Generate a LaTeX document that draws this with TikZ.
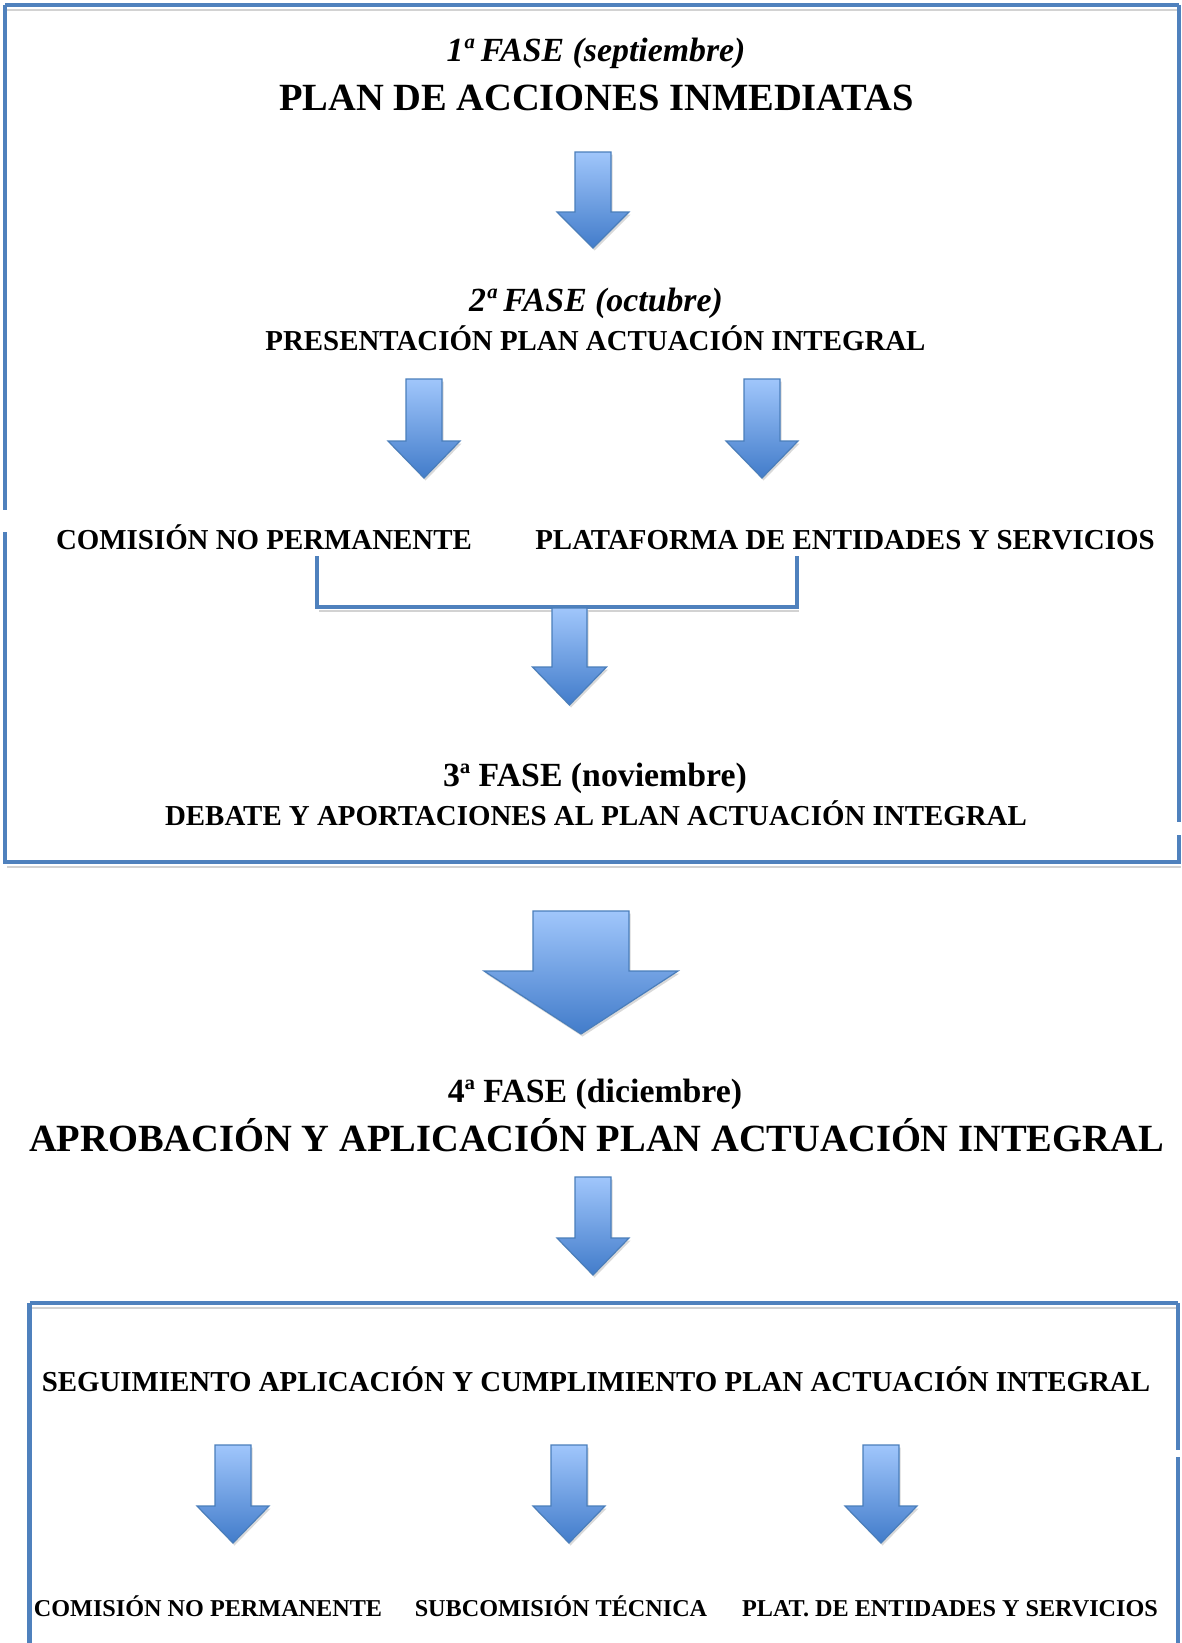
\documentclass[tikz,border=0pt]{standalone}
\usepackage{fontspec}
\setmainfont{Liberation Serif}
\usepackage{tikz}
\usetikzlibrary{calc}

\definecolor{bordeazul}{HTML}{4F81BD}
\definecolor{flechaclara}{HTML}{A0C6FB}
\definecolor{flechaoscura}{HTML}{427CCA}
\definecolor{flechaborde}{HTML}{4A7EBB}

% x centro, y arriba, y cabeza, y punta, medio cuerpo, media cabeza
\newcommand{\flecha}[6]{%
  \fill[gray!30, shift={(1.5,2.5)}] (#1-#5,#2) -- (#1+#5,#2) -- (#1+#5,#3) -- (#1+#6,#3)
     -- (#1,#4) -- (#1-#6,#3) -- (#1-#5,#3) -- cycle;
  \shade[top color=flechaclara, bottom color=flechaoscura, draw=flechaborde, line width=1.2pt]
     (#1-#5,#2) -- (#1+#5,#2) -- (#1+#5,#3) -- (#1+#6,#3)
     -- (#1,#4) -- (#1-#6,#3) -- (#1-#5,#3) -- cycle;
}

\tikzset{
  marco/.style={draw=bordeazul, line width=4.5pt},
  sombra/.style={draw=gray!35, line width=2.5pt},
  fase/.style={anchor=base, inner sep=0pt, font=\bfseries\fontsize{33.8}{40}\selectfont},
  titulo/.style={anchor=base, inner sep=0pt, font=\bfseries\fontsize{38.5}{46}\selectfont},
  texto/.style={anchor=base, inner sep=0pt, font=\bfseries\fontsize{28.9}{34}\selectfont},
  textop/.style={anchor=base, inner sep=0pt, font=\bfseries\fontsize{24.2}{29}\selectfont}
}

\begin{document}
\begin{tikzpicture}[x=1pt, y=-1pt]
   \useasboundingbox[fill=white] (0,0) rectangle (1182,1643);

   % primer marco
   \draw[sombra] (7,10) -- (1177,10);
   \draw[sombra] (7,867) -- (1181,867);
   \draw[marco] (5,5) -- (1179,5);
   \draw[marco] (5,5) -- (5,510);
   \draw[marco] (5,532) -- (5,862);
   \draw[marco] (1179,5) -- (1179,822);
   \draw[marco] (1179,835) -- (1179,862);
   \draw[marco] (3,862) -- (1181,862);

   \node[fase] (f1) at (596,62) {\itshape 1ª FASE (septiembre)};
   \node[titulo] (plan) at (596.5,111) {PLAN DE ACCIONES INMEDIATAS};
   \flecha{593}{152}{212}{248}{18}{36}

   \node[fase] (f2) at (596,311) {\itshape 2ª FASE (octubre)};
   \node[texto] (present) at (595.5,350) {PRESENTACIÓN PLAN ACTUACIÓN INTEGRAL};
   \flecha{424}{379}{441}{478}{18}{36}
   \flecha{762}{379}{441}{478}{18}{36}

   \node[texto] (comision) at (264,549) {COMISIÓN NO PERMANENTE};
   \node[texto] (plataforma) at (845,549) {PLATAFORMA DE ENTIDADES Y SERVICIOS};

   % corchete
   \coordinate (bizq) at (317,556);
   \coordinate (bder) at (797,556);
   \draw[sombra] (319,611) -- (799,611);
   \draw[marco] (bizq) -- ++(0,51) -| (bder);
   \flecha{569.5}{608}{667}{705}{17.5}{37}

   \node[fase] (f3) at (595,786) {3ª FASE (noviembre)};
   \node[texto] (debate) at (596,825) {DEBATE Y APORTACIONES AL PLAN ACTUACIÓN INTEGRAL};

   \flecha{581}{911}{971}{1034}{48}{97}

   \node[fase] (f4) at (595,1102) {4ª FASE (diciembre)};
   \node[titulo] (aprob) at (596.5,1151) {APROBACIÓN Y APLICACIÓN PLAN ACTUACIÓN INTEGRAL};
   \flecha{593}{1177}{1238}{1275}{18}{36}

   % segundo marco
   \draw[sombra] (32,1308) -- (1176,1308);
   \draw[marco] (29.5,1303) -- (1178,1303);
   \draw[marco] (29.5,1303) -- (29.5,1643);
   \draw[marco] (1178,1303) -- (1178,1450);
   \draw[marco] (1178,1457) -- (1178,1643);

   \node[texto] (seguim) at (596,1391) {SEGUIMIENTO APLICACIÓN Y CUMPLIMIENTO PLAN ACTUACIÓN INTEGRAL};
   \flecha{233}{1445}{1506}{1543}{18}{36}
   \flecha{569}{1445}{1506}{1543}{18}{36}
   \flecha{881}{1445}{1506}{1543}{18}{36}

   \node[textop] (com2) at (208,1616) {COMISIÓN NO PERMANENTE};
   \node[textop] (subcom) at (561,1616) {SUBCOMISIÓN TÉCNICA};
   \node[textop] (plat2) at (950,1616) {PLAT. DE ENTIDADES Y SERVICIOS};
\end{tikzpicture}
\end{document}
